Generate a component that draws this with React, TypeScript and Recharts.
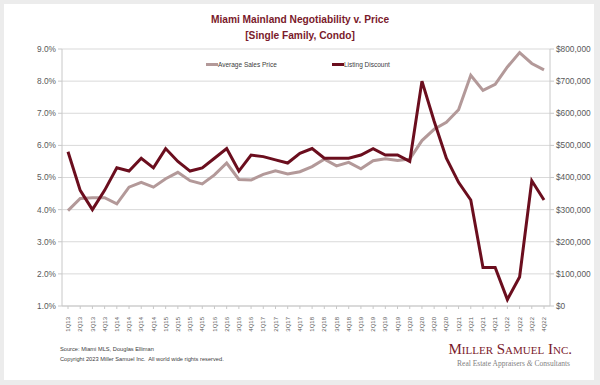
import React from 'react';
import { ComposedChart, Line, XAxis, YAxis, CartesianGrid } from 'recharts';

const quarters = [
  '1Q 13', '2Q 13', '3Q 13', '4Q 13', '1Q 14', '2Q 14', '3Q 14', '4Q 14',
  '1Q 15', '2Q 15', '3Q 15', '4Q 15', '1Q 16', '2Q 16', '3Q 16', '4Q 16',
  '1Q 17', '2Q 17', '3Q 17', '4Q 17', '1Q 18', '2Q 18', '3Q 18', '4Q 18',
  '1Q 19', '2Q 19', '3Q 19', '4Q 19', '1Q 20', '2Q 20', '3Q 20', '4Q 20',
  '1Q 21', '2Q 21', '3Q 21', '4Q 21', '1Q 22', '2Q 22', '3Q 22', '4Q 22',
];

const listingDiscount = [
  5.8, 4.6, 4.0, 4.6, 5.3, 5.2, 5.6, 5.3,
  5.9, 5.5, 5.2, 5.3, 5.6, 5.9, 5.2, 5.7,
  5.65, 5.55, 5.45, 5.75, 5.9, 5.6, 5.6, 5.6,
  5.7, 5.9, 5.7, 5.7, 5.5, 8.0, 6.75, 5.6,
  4.85, 4.3, 2.2, 2.2, 1.2, 1.9, 4.9, 4.3,
];

const avgSalesPrice = [
  297000, 335000, 337000, 337000, 318000, 370000, 385000, 370000,
  396000, 416000, 390000, 380000, 408000, 445000, 394000, 392000,
  410000, 421000, 411000, 418000, 434000, 457000, 436000, 447000,
  427000, 452000, 458000, 453000, 457000, 515000, 550000, 572000,
  611000, 718000, 671000, 690000, 744000, 789000, 755000, 735000,
];

const leftTicks = [1, 2, 3, 4, 5, 6, 7, 8, 9];
const rightTicks = [0, 100000, 200000, 300000, 400000, 500000, 600000, 700000, 800000];

const titleLines = ['Miami Mainland Negotiability v. Price', '[Single Family, Condo]'];
const legendItems = [
  { name: 'Average Sales Price', color: '#b39999' },
  { name: 'Listing Discount', color: '#6b0e1e' },
];

const data = quarters.map((q, i) => ({
  q,
  discount: listingDiscount[i],
  price: avgSalesPrice[i],
}));

const FONT = 'Arial, "Liberation Sans", sans-serif';
const SERIF = '"Liberation Serif", "Times New Roman", serif';
const AXIS = '#c8c8c8';

const XTick = (props: any) => {
  const { x, y, payload } = props;
  return (
    <text
      x={x}
      y={y + 6}
      transform={`rotate(-90, ${x}, ${y + 6})`}
      textAnchor="end"
      dy="0.35em"
      fontSize={6}
      fontFamily={FONT}
      fill="#595959"
    >
      {payload.value.replace(' ', '')}
    </text>
  );
};

export default function App() {
  return (
    <div style={{ position: 'relative', width: 600, height: 385, background: '#ececec', fontFamily: FONT }}>
      <style>{'body{margin:0}'}</style>
      <div style={{ position: 'absolute', left: 4, top: 4, width: 590, height: 376, background: '#ffffff' }} />
      <div style={{ position: 'absolute', left: 0, top: 12, width: 600, textAlign: 'center', color: '#7a1a2b', fontWeight: 'bold', fontSize: 10.2, lineHeight: '16px' }}>
        {titleLines.map((t) => (
          <div key={t}>{t}</div>
        ))}
      </div>
      <div style={{ position: 'absolute', left: 0, top: 0 }}>
        <ComposedChart width={600} height={385} data={data} margin={{ top: 49, right: 0, bottom: 49, left: 0 }}>
          <CartesianGrid yAxisId="left" vertical={false} stroke="#d9d9d9" strokeWidth={1} />
          <XAxis
            dataKey="q"
            interval={0}
            padding={{ left: 6, right: 6 }}
            height={30}
            tick={<XTick />}
            tickSize={3}
            axisLine={{ stroke: AXIS }}
            tickLine={{ stroke: AXIS }}
          />
          <YAxis
            yAxisId="left"
            domain={[1, 9]}
            ticks={leftTicks}
            interval={0}
            width={62}
            tickFormatter={(v: number) => v.toFixed(1) + '%'}
            tick={{ fontSize: 8.3, fill: '#595959', fontFamily: FONT }}
            tickSize={4}
            axisLine={{ stroke: AXIS }}
            tickLine={{ stroke: AXIS }}
          />
          <YAxis
            yAxisId="right"
            orientation="right"
            domain={[0, 800000]}
            ticks={rightTicks}
            interval={0}
            width={50}
            tickFormatter={(v: number) => '$' + v.toLocaleString('en-US')}
            tick={{ fontSize: 8.3, fill: '#595959', fontFamily: FONT, textAnchor: 'start' }}
            tickSize={4}
            axisLine={{ stroke: AXIS }}
            tickLine={{ stroke: AXIS }}
          />
          <Line
            yAxisId="right"
            dataKey="price"
            stroke={legendItems[0].color}
            strokeWidth={3}
            dot={false}
            isAnimationActive={false}
          />
          <Line
            yAxisId="left"
            dataKey="discount"
            stroke={legendItems[1].color}
            strokeWidth={3}
            dot={false}
            isAnimationActive={false}
          />
        </ComposedChart>
      </div>
      <div style={{ position: 'absolute', left: 206, top: 61, fontSize: 6.5, color: '#404040', display: 'flex', alignItems: 'center' }}>
        <span style={{ display: 'inline-block', width: 12, height: 3, background: legendItems[0].color }} />
        <span>{legendItems[0].name}</span>
      </div>
      <div style={{ position: 'absolute', left: 332, top: 61, fontSize: 6.5, color: '#404040', display: 'flex', alignItems: 'center' }}>
        <span style={{ display: 'inline-block', width: 12, height: 3, background: legendItems[1].color }} />
        <span>{legendItems[1].name}</span>
      </div>
      <div style={{ position: 'absolute', left: 60, top: 344, fontSize: 5.7, color: '#404040', lineHeight: '10px' }}>
        <div>Source: Miami MLS, Douglas Elliman</div>
        <div style={{ whiteSpace: 'pre' }}>Copyright 2023 Miller Samuel Inc.  All world wide rights reserved.</div>
      </div>
      <div style={{ position: 'absolute', left: 380, width: 192, top: 340, textAlign: 'right', fontFamily: SERIF }}>
        <div style={{ fontSize: 15, color: '#7a1a2b', fontVariant: 'small-caps', lineHeight: '18px' }}>Miller Samuel Inc.</div>
        <div style={{ fontSize: 7.5, color: '#7f7f7f', lineHeight: '12px', marginRight: 2 }}>
          Real Estate Appraisers <i>&amp;</i> Consultants
        </div>
      </div>
    </div>
  );
}
